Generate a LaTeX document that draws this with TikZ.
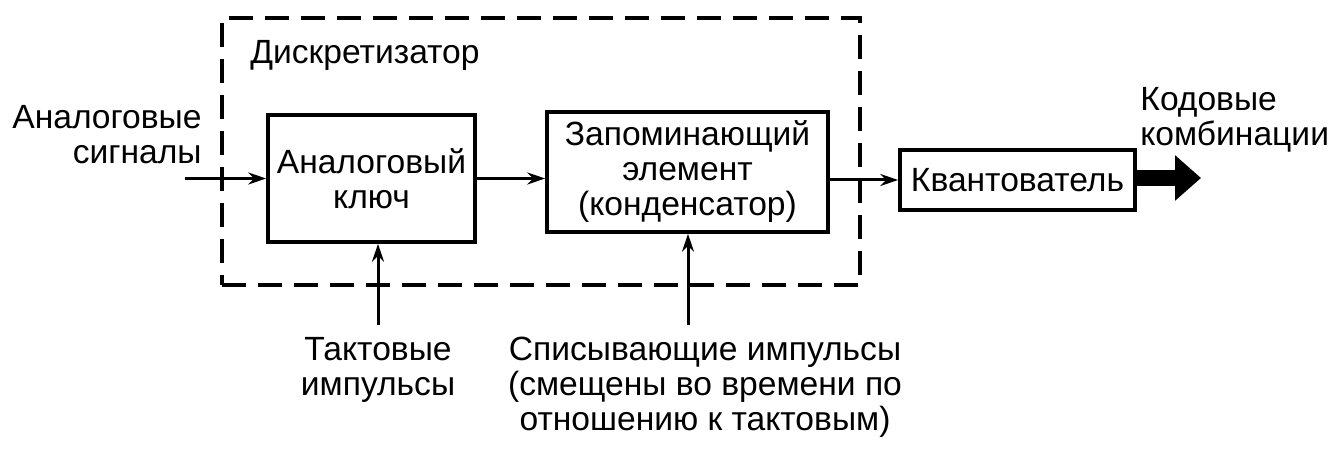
\documentclass[tikz,border=0pt]{standalone}
\usepackage{fontspec}
\setmainfont{Liberation Sans}
\usetikzlibrary{arrows.meta,positioning,calc}

\begin{document}
\begin{tikzpicture}[
  x=0.5pt, y=-0.5pt,
  font=\fontsize{16.8}{17.5}\selectfont,
  box/.style={rectangle, draw, line width=1.8pt, inner sep=0pt, align=center},
  dashbox/.style={rectangle, draw, line width=1.6pt, dash pattern=on 12pt off 6pt, inner sep=0pt},
  lbl/.style={align=center, inner sep=0pt},
  arrow/.style={-{Stealth[length=9pt,width=6pt]}, line width=1.5pt},
  bigarrow/.style={-{Triangle[length=13pt,width=22pt]}, line width=8pt}
]
  \useasboundingbox (0,0) rectangle (1334,453);
  \node[dashbox, minimum width=319pt, minimum height=133.5pt] (disc) at (541,151.5) {};
  \node[lbl, anchor=west] (discname) at (250,55) {Дискретизатор};
  \node[box, minimum width=103.5pt, minimum height=63.5pt] (key) at (371.5,178.5) {Аналоговый\\ключ};
  \node[box, minimum width=140.5pt, minimum height=60pt] (mem) at (687.5,172) {Запоминающий\\элемент\\(конденсатор)};
  \node[box, minimum width=117.5pt, minimum height=30pt] (quant) at (1017.5,180) {Квантователь};
  \node[lbl, align=right, anchor=east] (inlbl) at (202,135) {Аналоговые\\сигналы};
  \node[lbl, align=left, anchor=west] (outlbl) at (1140,120) {Кодовые\\комбинации};
  \node[lbl] (clklbl) at (378,370) {Тактовые\\импульсы};
  \node[lbl] (rdlbl) at (705,387) {Списывающие импульсы\\(смещены во времени по\\отношению к тактовым)};
  \coordinate (src) at (185,178.5);
  \coordinate (clk) at (378,325);
  \coordinate (rd) at (688,325);
  \coordinate (dst) at (1201,178);
  \draw[arrow] (src) -- (key);
  \draw[arrow] (key.east) -- (key.east -| mem.west);
  \draw[arrow] (quant.west -| mem.east) -- (quant.west);
  \draw[arrow] (clk) -- (clk |- key.south);
  \draw[arrow] (rd) -- (rd |- mem.south);
  \draw[bigarrow] (quant.east |- dst) -- (dst);
\end{tikzpicture}
\end{document}
